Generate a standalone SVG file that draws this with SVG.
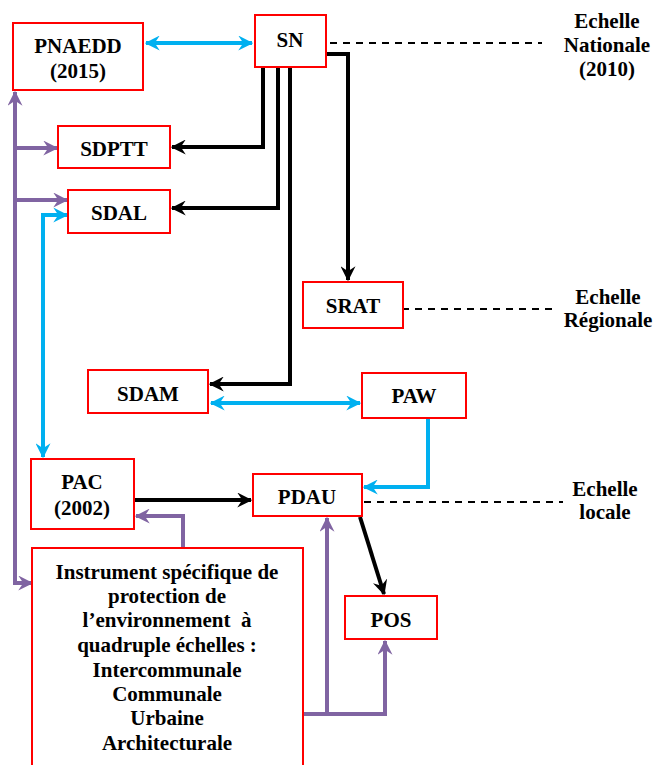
<svg xmlns="http://www.w3.org/2000/svg" width="654" height="765" viewBox="0 0 654 765">
<style>
.box{fill:#fff;stroke:#ff0000;stroke-width:2}
.t{font-family:"Liberation Serif","Times New Roman",serif;font-weight:bold;font-size:21px;fill:#000;text-anchor:middle}
.blk{fill:none;stroke:#000;stroke-width:4}
.blu{fill:none;stroke:#00b0f0;stroke-width:4}
.pur{fill:none;stroke:#8064a2;stroke-width:4}
.dash{fill:none;stroke:#000;stroke-width:1.8;stroke-dasharray:7,6}
</style>
<defs>
<marker id="ak" viewBox="0 0 12 12" markerUnits="userSpaceOnUse" markerWidth="15" markerHeight="15" refX="11" refY="6" orient="auto-start-reverse"><path d="M0,0 L12,6 L0,12 L4,6 z" fill="#000"/></marker>
<marker id="ab" viewBox="0 0 12 12" markerUnits="userSpaceOnUse" markerWidth="15" markerHeight="15" refX="11" refY="6" orient="auto-start-reverse"><path d="M0,0 L12,6 L0,12 L4,6 z" fill="#00b0f0"/></marker>
<marker id="ap" viewBox="0 0 12 12" markerUnits="userSpaceOnUse" markerWidth="15" markerHeight="15" refX="11" refY="6" orient="auto-start-reverse"><path d="M0,0 L12,6 L0,12 L4,6 z" fill="#8064a2"/></marker>
</defs>
<rect width="654" height="765" fill="#fff"/>
<g id="connectors">
<path class="blu" d="M146,43 H252" marker-start="url(#ab)" marker-end="url(#ab)"/>
<path class="blk" d="M263,67 V147 H172" marker-end="url(#ak)"/>
<path class="blk" d="M278,67 V208 H172" marker-end="url(#ak)"/>
<path class="blk" d="M290,67 V384 H210" marker-end="url(#ak)"/>
<path class="blk" d="M326,54 H348 V280" marker-end="url(#ak)"/>
<path class="blu" d="M211,403 H360" marker-start="url(#ab)" marker-end="url(#ab)"/>
<path class="blu" d="M428,418 V487 H364" marker-end="url(#ab)"/>
<path class="blu" d="M67,215 H43 V457" marker-start="url(#ab)" marker-end="url(#ab)"/>
<path class="blk" d="M134,500 H251" marker-end="url(#ak)"/>
<path class="blk" d="M360,517 L384,594" marker-end="url(#ak)"/>
<path class="pur" d="M32,583 H15 V92" marker-start="url(#ap)" marker-end="url(#ap)"/>
<path class="pur" d="M15,148 H57" marker-end="url(#ap)"/>
<path class="pur" d="M15,200 H67" marker-end="url(#ap)"/>
<path class="pur" d="M183,548 V516 H136" marker-end="url(#ap)"/>
<path class="pur" d="M303,714 H385 V641" marker-end="url(#ap)"/>
<path class="pur" d="M327,714 V518" marker-end="url(#ap)"/>
<path class="dash" d="M330,43 H542"/>
<path class="dash" d="M402,309 H555"/>
<path class="dash" d="M364,502 H563"/>
</g>
<g id="PNAEDD"><rect class="box" x="13" y="23" width="130" height="67"/><text class="t" x="78" y="53">PNAEDD</text><text class="t" x="78" y="78">(2015)</text></g>
<g id="SN"><rect class="box" x="255" y="15" width="71" height="52"/><text class="t" x="290" y="47">SN</text></g>
<g id="SDPTT"><rect class="box" x="58" y="126" width="112" height="42"/><text class="t" x="114" y="156">SDPTT</text></g>
<g id="SDAL"><rect class="box" x="68" y="190" width="102" height="43"/><text class="t" x="119" y="220">SDAL</text></g>
<g id="SRAT"><rect class="box" x="303" y="282" width="100" height="46"/><text class="t" x="353" y="313">SRAT</text></g>
<g id="SDAM"><rect class="box" x="88" y="370" width="120" height="43"/><text class="t" x="148" y="401">SDAM</text></g>
<g id="PAW"><rect class="box" x="362" y="373" width="104" height="45"/><text class="t" x="414" y="403">PAW</text></g>
<g id="PAC"><rect class="box" x="31" y="459" width="103" height="70"/><text class="t" x="82" y="489">PAC</text><text class="t" x="82" y="515">(2002)</text></g>
<g id="PDAU"><rect class="box" x="253" y="474" width="109" height="42"/><text class="t" x="307" y="504">PDAU</text></g>
<g id="POS"><rect class="box" x="345" y="596" width="92" height="43"/><text class="t" x="391" y="627">POS</text></g>
<g id="Instrument"><rect class="box" x="32" y="548" width="271" height="240"/>
<text class="t" x="167" y="579">Instrument spécifique de</text>
<text class="t" x="167" y="603">protection de</text>
<text class="t" x="167" y="627" xml:space="preserve">l’environnement  à</text>
<text class="t" x="167" y="652">quadruple échelles :</text>
<text class="t" x="167" y="677">Intercommunale</text>
<text class="t" x="167" y="701">Communale</text>
<text class="t" x="167" y="725">Urbaine</text>
<text class="t" x="167" y="750">Architecturale</text>
</g>
<g id="EchelleNationale"><text class="t" x="607" y="28">Echelle</text><text class="t" x="607" y="52">Nationale</text><text class="t" x="607" y="76">(2010)</text></g>
<g id="EchelleRegionale"><text class="t" x="608" y="304">Echelle</text><text class="t" x="608" y="327">Régionale</text></g>
<g id="EchelleLocale"><text class="t" x="605" y="496">Echelle</text><text class="t" x="605" y="519">locale</text></g>
</svg>
